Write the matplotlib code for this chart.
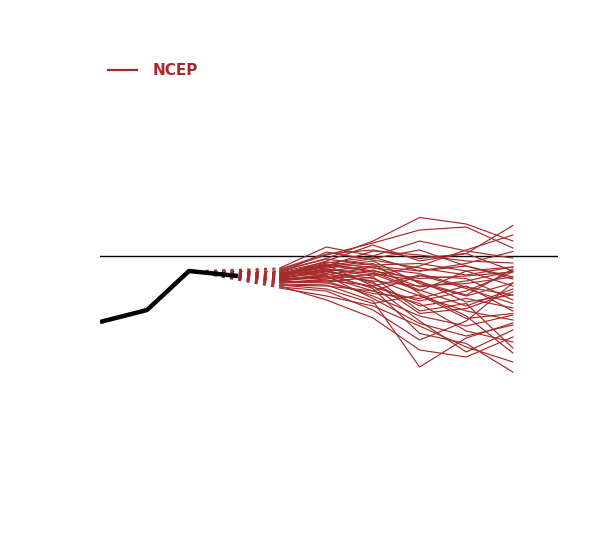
import matplotlib.pyplot as plt
import numpy as np

# observed series (months relative to forecast start) and values
obs_x = [-3.86, -2.85, -1.95, -0.9]
obs_y = [-1.32, -1.08, -0.30, -0.40]

# forecast lead months
lead = [0, 1, 2, 3, 4, 5]

# NCEP ensemble members
members = [
    [-0.30, -0.05, 0.30, 0.77, 0.64, 0.30],
    [-0.28, 0.02, 0.26, 0.52, 0.58, 0.16],
    [-0.24, 0.18, 0.00, 0.30, 0.10, -0.04],
    [-0.38, -0.10, 0.22, -0.10, 0.05, 0.61],
    [-0.40, -0.20, 0.10, 0.02, -0.10, -0.14],
    [-0.34, 0.08, -0.08, -0.24, -0.38, -0.22],
    [-0.44, -0.30, -0.20, -0.30, -0.15, 0.09],
    [-0.36, -0.16, -0.30, -0.45, -0.40, -0.32],
    [-0.46, -0.26, -0.40, -0.20, 0.12, 0.42],
    [-0.50, -0.36, -0.50, -0.60, -0.55, -0.42],
    [-0.42, -0.22, -0.10, -0.55, -0.80, -0.54],
    [-0.54, -0.46, -0.36, -0.70, -0.30, -0.22],
    [-0.32, -0.12, -0.24, -0.35, -0.62, -0.78],
    [-0.48, -0.40, -0.62, -0.90, -0.70, -0.32],
    [-0.58, -0.60, -0.70, -0.40, -0.45, -0.88],
    [-0.40, -0.28, -0.55, -1.00, -0.85, -1.04],
    [-0.52, -0.50, -0.80, -1.20, -1.40, -1.18],
    [-0.62, -0.70, -1.08, -1.68, -1.30, -0.54],
    [-0.44, -0.32, -0.45, -0.80, -1.10, -1.28],
    [-0.56, -0.58, -0.90, -2.22, -1.64, -1.34],
    [-0.38, -0.18, -0.60, -1.30, -1.92, -1.48],
    [-0.60, -0.88, -1.24, -1.88, -2.02, -1.62],
    [-0.46, -0.42, -0.70, -0.95, -1.50, -1.72],
    [-0.50, -0.52, -0.42, -1.10, -0.95, -1.84],
    [-0.34, -0.24, -0.15, -0.75, -1.20, -1.94],
    [-0.64, -0.80, -1.00, -1.40, -1.82, -2.12],
    [-0.42, -0.35, -0.65, -1.55, -1.75, -2.32],
    [-0.36, -0.14, -0.02, -0.30, -0.20, -0.42],
    [-0.30, -0.06, -0.18, -0.15, -0.30, -0.60],
    [-0.48, -0.44, -0.28, -0.62, -0.50, -0.30],
    [-0.40, -0.26, -0.35, -0.50, -0.92, -0.78],
    [-0.52, -0.54, -0.75, -0.85, -0.60, -1.10],
    [-0.44, -0.30, -0.52, -1.15, -1.05, -0.72],
    [-0.58, -0.66, -0.95, -0.78, -1.25, -1.15],
    [-0.26, 0.04, 0.12, -0.05, 0.05, -0.30],
    [-0.38, -0.20, -0.05, 0.12, -0.20, -0.46],
    [-0.46, -0.38, -0.22, -0.52, -0.78, -0.26],
    [-0.54, -0.48, -0.60, -0.38, -0.65, -0.95],
    [-0.34, -0.18, -0.32, -0.68, -1.00, -0.66],
    [-0.50, -0.40, -0.85, -1.35, -1.60, -1.38],
]

red = '#a52a2a'

fig = plt.figure(figsize=(6, 5.4), dpi=100)
ax = fig.add_axes([100/600, 59/540, 458/600, 450/540])

ax.axhline(0, color='black', lw=1.0, zorder=1)

# dashed links from last obs peak to each member start
for m in members:
    ax.plot([obs_x[2], lead[0]], [obs_y[2], m[0]], color=red, lw=0.8,
            ls=(0, (2.7, 4.8)), zorder=2)

for i, m in enumerate(members):
    ax.plot(lead, m, color=red, lw=0.85, zorder=2,
            label='NCEP' if i == 0 else None)

ax.plot(obs_x, obs_y, color='black', lw=3.2, zorder=3, solid_capstyle='butt')

ax.set_xlim(-3.86, 5.97)
ax.set_ylim(-4.5, 4.5)
ax.axis('off')

leg = ax.legend(loc='center left', bbox_to_anchor=(8/458, 410/450), frameon=False,
                borderpad=0, borderaxespad=0, handlelength=1.9, handletextpad=1.05,
                prop={'weight': 'bold', 'size': 11})
for t in leg.get_texts():
    t.set_color(red)
for h in leg.legend_handles:
    h.set_linewidth(1.6)

fig.savefig('out.png', dpi=100)
